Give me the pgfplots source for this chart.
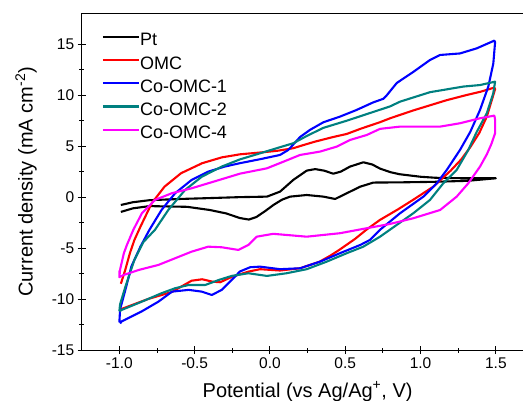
\documentclass[border=0pt]{standalone}
\usepackage{pgfplots}
\pgfplotsset{compat=1.18}
\usepackage{fontspec}
\setmainfont{Liberation Sans}
\usetikzlibrary{calc}
\definecolor{cteal}{RGB}{0,128,128}
\definecolor{cmag}{RGB}{255,0,255}
\definecolor{cred}{RGB}{255,0,0}
\definecolor{cblue}{RGB}{0,0,255}
\begin{document}
\begin{tikzpicture}
\begin{axis}[
  scale only axis, width=451.8pt, height=336.3pt,
  xmin=-1.25, xmax=1.75, ymin=-15, ymax=18,
  xtick={-1,-0.5,0,0.5,1,1.5}, ytick={-15,-10,-5,0,5,10,15},
  minor x tick num=1, minor y tick num=1,
  tick align=center, tick pos=left,
  major tick length=8pt, minor tick length=5pt,
  every tick/.style={black, line width=0.9pt},
  axis line style={line width=1pt},
  /pgf/number format/assume math mode=true,
  x tick label style={/pgf/number format/fixed, /pgf/number format/fixed zerofill, /pgf/number format/precision=1},
  tick label style={font=\fontsize{15.5}{18}\selectfont},
  xlabel={Potential (vs Ag/Ag\textsuperscript{+}, V)},
  ylabel={Current density (mA cm\textsuperscript{-2})},
  label style={font=\fontsize{20}{24}\selectfont},
  xlabel style={at={(axis description cs:0.5,-0.1398)}, anchor=base},
  ylabel style={at={(axis description cs:-0.1085,0.5)}, anchor=base},
  legend style={draw=none, fill=none, at={(axis description cs:0.0443,0.9435)}, anchor=north west,
    font=\fontsize{18}{21}\selectfont, row sep=6.2pt, inner sep=0pt,
    nodes={inner sep=0pt, text height=13pt, text depth=4pt}},
  legend image code/.code={\draw[#1, line width=2.1pt] (0pt,4.5pt) -- (36pt,4.5pt);},
  legend cell align=left,
]
\addplot[black, line width=2.1pt, line join=round] coordinates {
(-0.99,-0.77) (-0.91,-0.5) (-0.8,-0.3) (-0.6,-0.18) (-0.46,-0.12) (-0.2,0.0) (-0.02,0.05) (0.067,0.54) (0.155,1.69) (0.244,2.6) (0.3,2.75) (0.36,2.6) (0.42,2.3) (0.47,2.5) (0.532,3.0) (0.62,3.42) (0.68,3.2) (0.731,2.8) (0.8,2.45) (0.86,2.25) (1.0,2.0) (1.1,1.9) (1.3,1.85) (1.5,1.85)
(1.31,1.6) (1.085,1.5) (0.86,1.45) (0.687,1.43) (0.6,1.03) (0.51,0.38) (0.433,-0.18) (0.355,0.05) (0.244,0.21) (0.134,0.05) (0.08,-0.25) (0.023,-0.77) (-0.03,-1.35) (-0.09,-1.95) (-0.14,-2.2) (-0.2,-2.05) (-0.29,-1.6) (-0.4,-1.26) (-0.55,-0.95) (-0.8,-0.88) (-0.91,-1.1) (-0.99,-1.45)
};
\addlegendentry{Pt}
\addplot[cred, line width=2.1pt, line join=round] coordinates {
(-0.99,-8.5) (-0.96,-7.1) (-0.93,-5.5) (-0.9,-4.2) (-0.86,-2.9) (-0.785,-0.6) (-0.7,1.03) (-0.59,2.35) (-0.45,3.33) (-0.32,3.9) (-0.2,4.2) (-0.05,4.4) (0.05,4.55) (0.155,4.8) (0.22,5.1) (0.3,5.45) (0.42,5.9) (0.51,6.2) (0.6,6.7) (0.73,7.35) (0.8,7.75) (0.95,8.5) (1.17,9.5) (1.3,10.0) (1.4,10.35) (1.49,10.75)
(1.495,10.6) (1.48,9.86) (1.44,7.9) (1.39,6.3) (1.33,4.9) (1.27,3.7) (1.2,2.6) (1.085,1.03) (0.95,-0.27) (0.85,-1.2) (0.73,-2.24) (0.64,-3.2) (0.565,-4.1) (0.46,-5.18) (0.4,-5.75) (0.33,-6.33) (0.2,-6.98) (0.066,-7.2) (-0.066,-7.07) (-0.14,-7.3) (-0.25,-7.8) (-0.33,-8.35) (-0.38,-8.3) (-0.45,-8.06) (-0.52,-8.2) (-0.58,-8.7) (-0.65,-9.3) (-0.81,-10.0) (-0.99,-11.0)
};
\addlegendentry{OMC}
\addplot[cblue, line width=2.1pt, line join=round] coordinates {
(-1.0,-12.3) (-0.995,-11.0) (-0.98,-10.2) (-0.96,-9.1) (-0.92,-6.8) (-0.86,-4.86) (-0.8,-3.2) (-0.72,-1.26) (-0.63,0.38) (-0.52,1.69) (-0.41,2.5) (-0.3,3.0) (-0.2,3.33) (-0.066,3.72) (0.067,4.14) (0.122,4.63) (0.2,5.9) (0.266,6.6) (0.355,7.35) (0.465,7.9) (0.576,8.56) (0.686,9.3) (0.753,9.65) (0.776,10.0) (0.842,11.2) (0.953,12.3) (1.063,13.46) (1.13,13.95) (1.262,14.1) (1.373,14.6) (1.49,15.36)
(1.495,15.2) (1.483,13.1) (1.45,10.85) (1.395,8.56) (1.33,6.4) (1.262,4.63) (1.174,2.67) (1.108,1.36) (1.019,0.05) (0.864,-1.58) (0.731,-3.2) (0.664,-4.2) (0.6,-4.69) (0.465,-5.5) (0.333,-6.33) (0.2,-6.98) (0.067,-7.07) (-0.066,-6.82) (-0.132,-6.88) (-0.2,-7.3) (-0.232,-7.8) (-0.32,-9.1) (-0.386,-9.6) (-0.453,-9.27) (-0.54,-9.1) (-0.65,-9.27) (-0.74,-10.25) (-0.85,-11.2) (-0.985,-12.2) (-0.995,-12.4)
};
\addlegendentry{Co-OMC-1}
\addplot[cteal, line width=2.1pt, line join=round] coordinates {
(-1.0,-11.2) (-0.995,-10.5) (-0.96,-8.8) (-0.9,-6.16) (-0.84,-4.4) (-0.763,-3.2) (-0.675,-1.26) (-0.564,0.7) (-0.453,2.0) (-0.32,3.0) (-0.2,3.7) (-0.066,4.3) (0.067,4.9) (0.155,5.29) (0.244,6.0) (0.355,6.8) (0.51,7.5) (0.643,8.15) (0.797,8.9) (0.864,9.37) (1.063,10.3) (1.284,10.85) (1.395,11.0) (1.495,11.33)
(1.483,10.2) (1.44,8.23) (1.373,6.4) (1.317,4.63) (1.24,2.67) (1.151,1.36) (1.063,-0.27) (0.952,-1.58) (0.731,-3.88) (0.62,-4.86) (0.51,-5.5) (0.377,-6.33) (0.244,-7.07) (0.11,-7.47) (-0.02,-7.73) (-0.143,-7.47) (-0.254,-7.73) (-0.34,-8.13) (-0.43,-8.62) (-0.54,-8.62) (-0.63,-8.94) (-0.72,-9.43) (-0.85,-10.25) (-0.985,-11.07) (-1.0,-11.2)
};
\addlegendentry{Co-OMC-2}
\addplot[cmag, line width=2.1pt, line join=round] coordinates {
(-1.0,-7.9) (-0.995,-7.1) (-0.97,-5.5) (-0.95,-4.7) (-0.907,-3.2) (-0.85,-1.58) (-0.763,-0.27) (-0.652,0.38) (-0.52,0.87) (-0.41,1.36) (-0.3,1.85) (-0.2,2.3) (-0.02,2.83) (0.09,3.48) (0.2,4.14) (0.333,4.47) (0.444,4.96) (0.532,5.61) (0.643,6.1) (0.731,6.7) (0.864,6.92) (0.997,6.92) (1.13,6.92) (1.262,7.25) (1.395,7.74) (1.49,8.0)
(1.495,7.6) (1.495,6.27) (1.47,5.2) (1.44,4.2) (1.395,3.0) (1.317,1.36) (1.24,0.05) (1.13,-1.26) (0.952,-2.07) (0.797,-2.63) (0.643,-3.05) (0.465,-3.54) (0.244,-3.88) (0.022,-3.6) (-0.088,-3.88) (-0.143,-4.69) (-0.21,-5.18) (-0.32,-4.92) (-0.41,-4.86) (-0.52,-5.35) (-0.63,-6.0) (-0.74,-6.65) (-0.87,-7.14) (-0.97,-7.63) (-1.0,-7.85) (-1.0,-7.2)
};
\addlegendentry{Co-OMC-4}
\end{axis}
\pgfresetboundingbox
\path[use as bounding box] ($(current axis.south west)+(-81.7pt,-50pt)$) rectangle ++(523pt,400pt);
\end{tikzpicture}
\end{document}
